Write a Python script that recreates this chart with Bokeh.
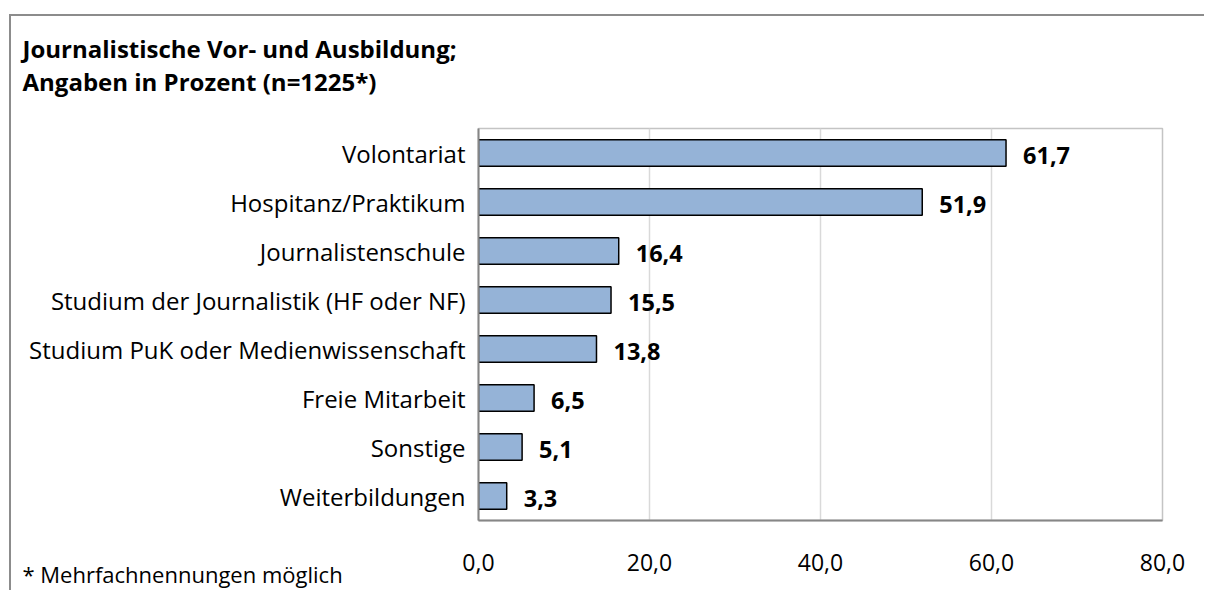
from bokeh.plotting import figure
from bokeh.models import (FactorRange, Range1d, FixedTicker, CustomJSTickFormatter,
                          Label, ColumnDataSource)
from bokeh.embed import file_html
from bokeh.resources import INLINE
from bokeh.core.properties import value

categories = ["Volontariat", "Hospitanz/Praktikum", "Journalistenschule",
              "Studium der Journalistik (HF oder NF)", "Studium PuK oder Medienwissenschaft",
              "Freie Mitarbeit", "Sonstige", "Weiterbildungen"]
values = [61.7, 51.9, 16.4, 15.5, 13.8, 6.5, 5.1, 3.3]
x_ticks = [0, 20, 40, 60, 80]
title_lines = ["Journalistische Vor- und Ausbildung;", "Angaben in Prozent (n=1225*)"]
footnote = "* Mehrfachnennungen möglich"

FONT = "Open Sans"
labels = [f"{v:.1f}".replace(".", ",") for v in values]
source = ColumnDataSource(dict(cat=categories, val=values, lab=labels))

p = figure(width=1195, height=576,
           y_range=FactorRange(factors=list(reversed(categories))),
           x_range=Range1d(0, 80),
           output_backend="svg", toolbar_location=None,
           min_border_left=467, min_border_right=44,
           min_border_top=112, min_border_bottom=72)
# outer chart border (left and top edges) drawn as an offset shadow
p.styles = {"margin-left": "11px", "margin-top": "16px",
            "box-shadow": "-2px -2px 0 0 #8c8c8c"}
p.background_fill_color = "white"
p.border_fill_color = "white"
p.outline_line_color = "#c4c4c4"
p.outline_line_width = 1.5

p.hbar(y="cat", left=0, right="val", height=0.54, source=source,
       fill_color="#95b3d7", line_color="black", line_width=1.5)
p.text(x="val", y="cat", text="lab", source=source, x_offset=17, y_offset=2,
       text_font=value(FONT), text_font_style="bold", text_font_size="23.5px",
       text_baseline="middle", text_align="left", text_color="black")

# axes
p.xaxis.ticker = FixedTicker(ticks=x_ticks)
p.xaxis.formatter = CustomJSTickFormatter(code="return tick.toFixed(1).replace('.', ',');")
for ax in (p.xaxis, p.yaxis):
    ax.major_tick_out = 0
    ax.major_tick_in = 0
    ax.minor_tick_out = 0
    ax.minor_tick_in = 0
    ax.axis_line_color = "#868686"
    ax.axis_line_width = 2
    ax.major_label_text_font = FONT
    ax.major_label_text_color = "black"
p.xaxis.major_label_text_font_size = "23px"
p.yaxis.major_label_text_font_size = "24px"
p.xaxis.major_label_standoff = 33
p.yaxis.major_label_standoff = 13

p.xgrid.ticker = FixedTicker(ticks=x_ticks)
p.xgrid.grid_line_color = "#d9d9d9"
p.xgrid.grid_line_width = 1.5
p.ygrid.grid_line_color = None

# title and footnote (x: pixels from the plot frame's left edge)
p.add_layout(Label(x=-456, y=9.633, x_units="screen", y_units="data", text=title_lines[0],
                   text_font=FONT, text_font_style="bold", text_font_size="24px",
                   text_baseline="alphabetic", text_color="black"), "above")
p.add_layout(Label(x=-456, y=8.959, x_units="screen", y_units="data", text=title_lines[1],
                   text_font=FONT, text_font_style="bold", text_font_size="24px",
                   text_baseline="alphabetic", text_color="black"), "above")
p.add_layout(Label(x=-456, y=-1.102, x_units="screen", y_units="data", text=footnote,
                   text_font=FONT, text_font_size="22px",
                   text_baseline="alphabetic", text_color="black"), "above")

open("out.html", "w").write(file_html(p, INLINE))
